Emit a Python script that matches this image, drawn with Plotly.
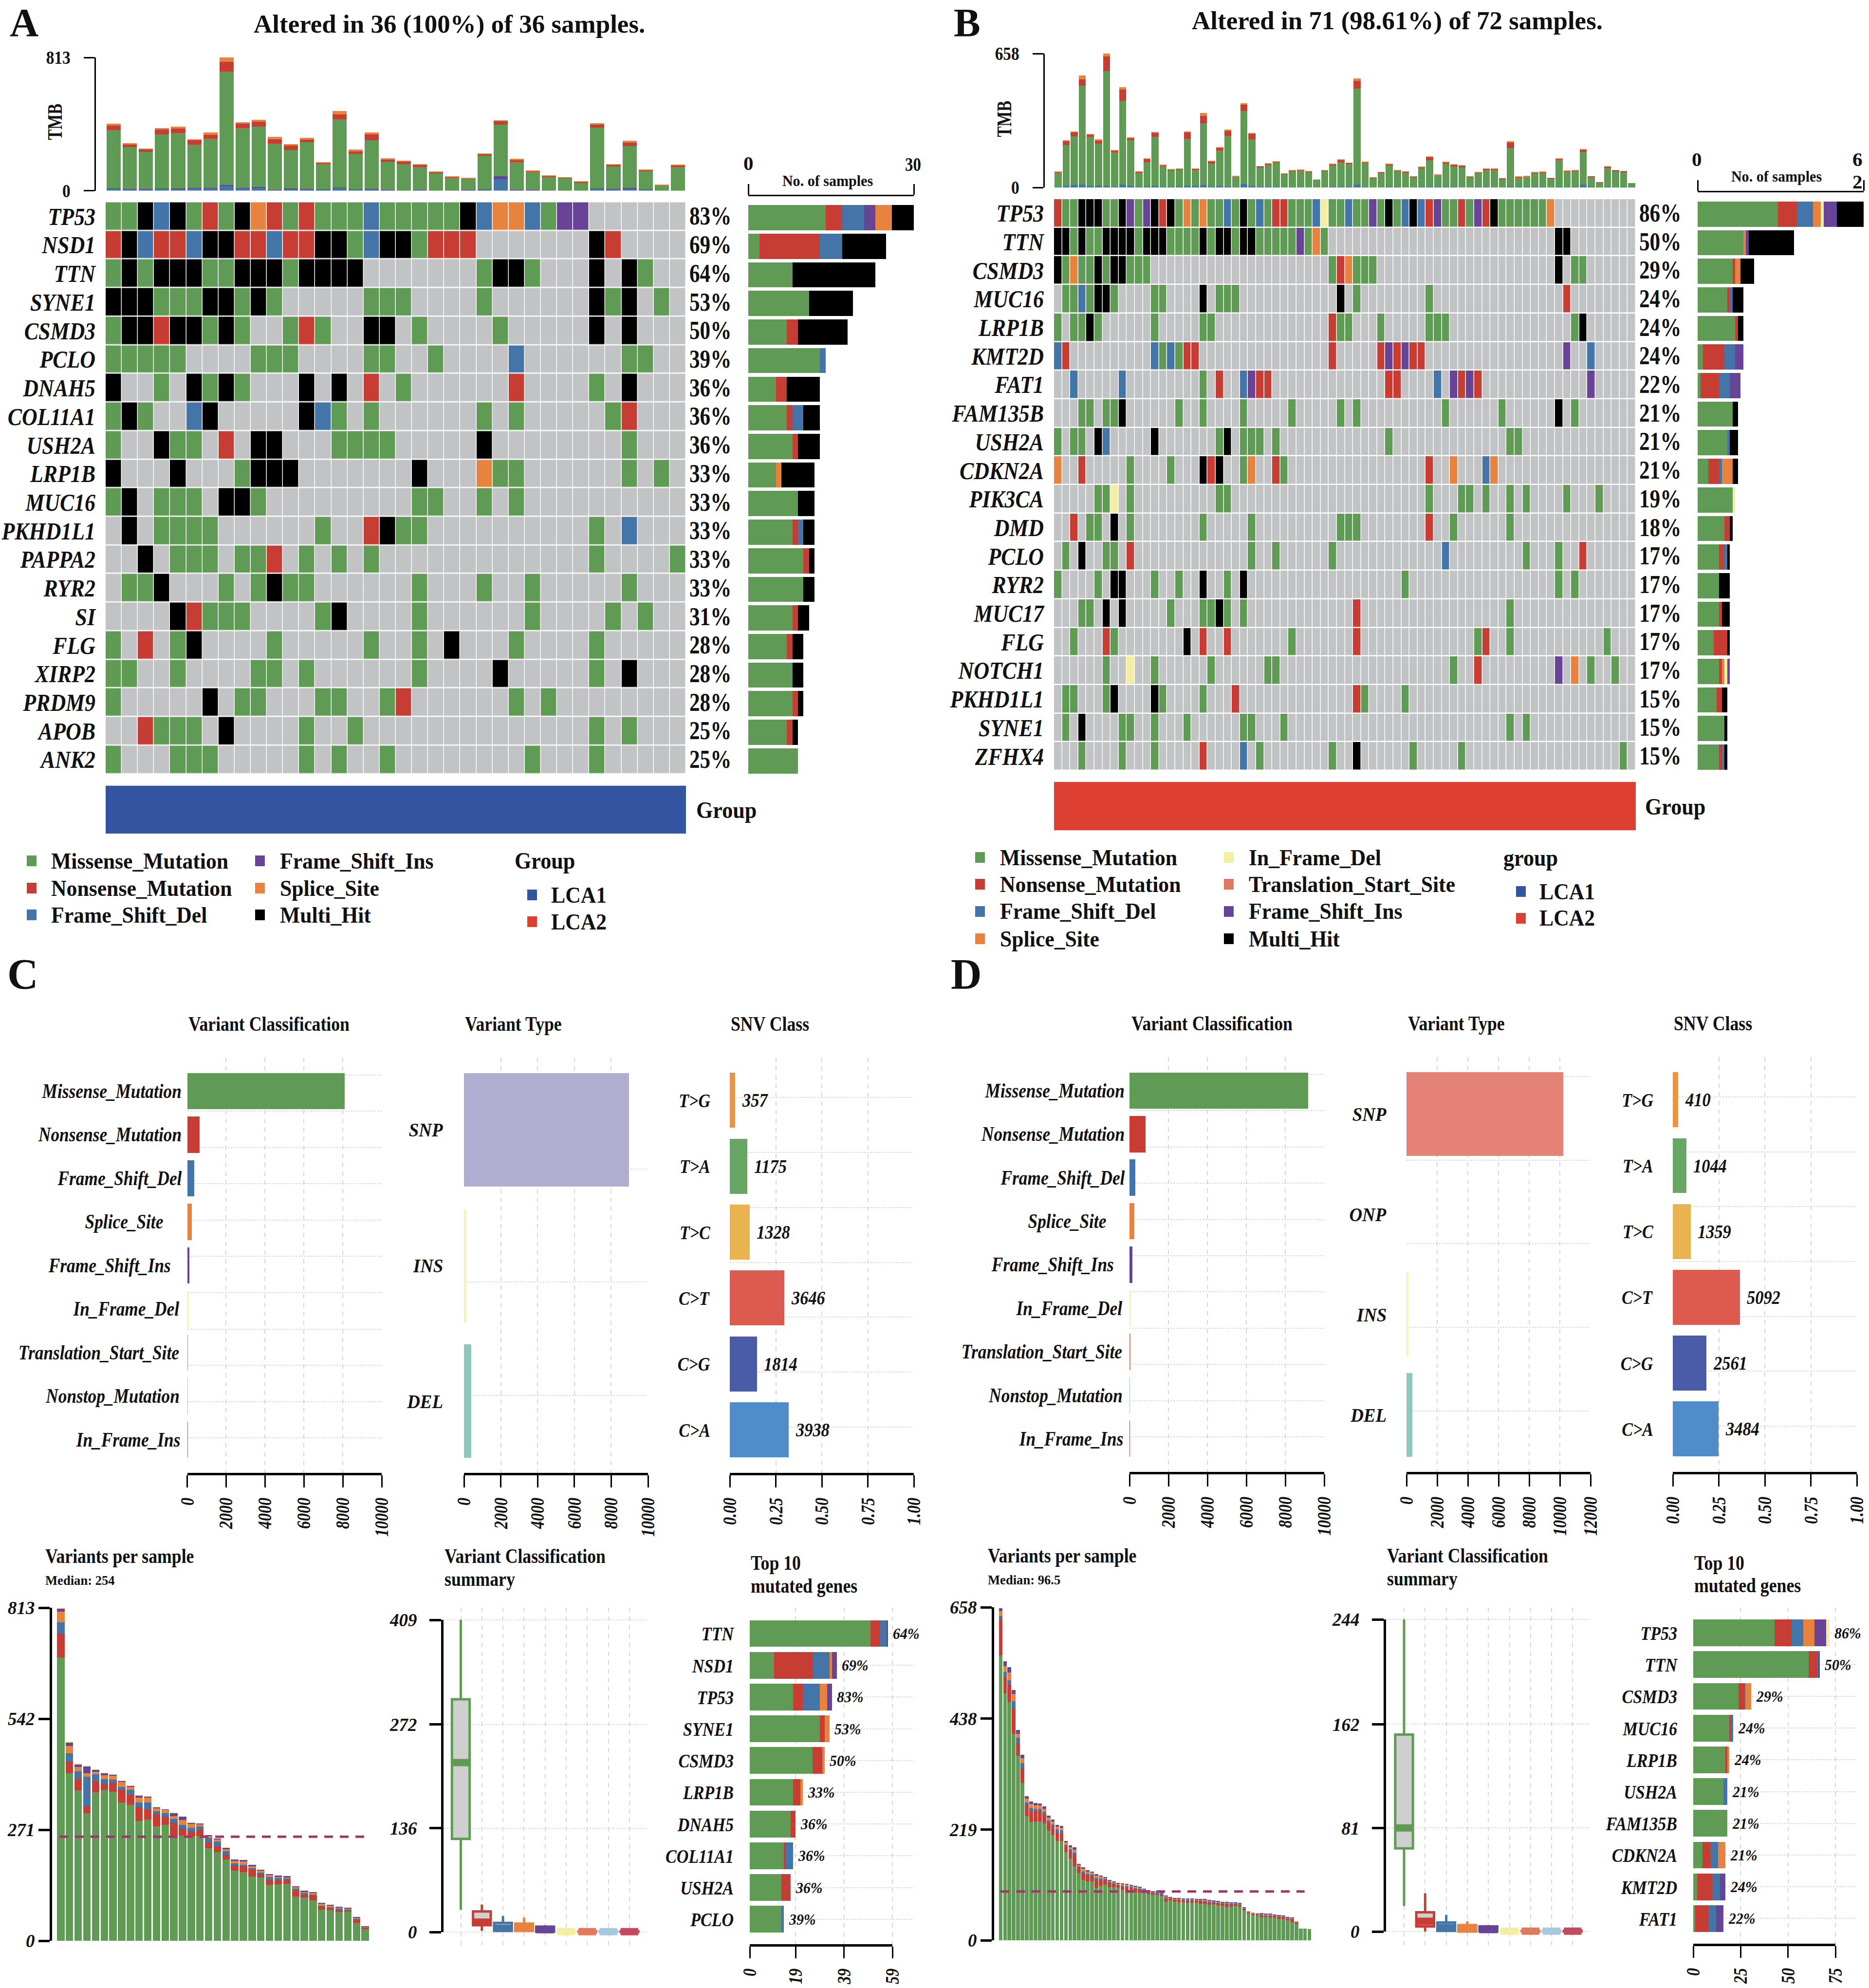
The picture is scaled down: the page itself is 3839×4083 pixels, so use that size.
import json
import numpy as np
import plotly.graph_objects as go

W, H = 3839, 4083
FONT = "Liberation Serif"

# ---------- colours ----------
GREEN, RED, BLUE, PURPLE, ORANGE = "#5f9b54", "#c73c33", "#4475a8", "#674496", "#e8823f"
YELLOW, SALMON, GRAY, BLACK = "#f3eea0", "#e07a5f", "#c1c3c5", "#000000"
CODE = {".": 0, "M": 1, "N": 2, "D": 3, "I": 4, "S": 5, "F": 6, "T": 7, "H": 8}
CODE_COL = [GRAY, GREEN, RED, BLUE, PURPLE, ORANGE, YELLOW, SALMON, BLACK]

# ---------- Panel A data ----------
genes_a = ["TP53", "NSD1", "TTN", "SYNE1", "CSMD3", "PCLO", "DNAH5", "COL11A1", "USH2A", "LRP1B",
           "MUC16", "PKHD1L1", "PAPPA2", "RYR2", "SI", "FLG", "XIRP2", "PRDM9", "APOB", "ANK2"]
pct_a = [83, 69, 64, 53, 50, 39, 36, 36, 36, 33, 33, 33, 33, 33, 31, 28, 28, 28, 25, 25]
onco_a = [
    "MMHDHMNMHSNMNMMMDMMMMMHDSSDMII......",
    "NHDNNDHHNNDNNHHMDHHMNNN.......HN....",
    "MHMHHHMMHHHMHHHH.......MHHM...H.HM..",
    "HHHMMMHHMHM.....MMM....M......HMH.M.",
    "MHHNHHMHM..MNM..HH.M....M.....H.H...",
    "MMMMM....MMM....MM..M....D......MM..",
    "H..M.HMHM...H.H.N.M......N....M.H...",
    "MHM..DH.....HDM.M......M.M.....MN...",
    "M..HMM.N.HH...MMMM.....H........M...",
    "H...H...MHHH.......H...SMM......M.M.",
    "MH.MMM.HHM.........MM..M.M..........",
    ".H.MMMM......M..NHMM..........M.D...",
    "..H.MMM.MMN.M.M.M.............M....M",
    ".MMH...M.MHMM......M...M..M.....M...",
    "....HNMMM....MH....M......M....M.M..",
    "M.N.MH....M.....M..M.H...M....M.....",
    "MM..M....MM.M......M....H.....M.H...",
    "M.....H.MM...MM..MN......M.M........",
    "..NMMM.H....M..M..............M.M...",
    "M...MMM.....M.M..M........M...M.....",
]
tmb_a_del = [11, 9, 8, 11, 9, 15, 15, 30, 15, 17, 4, 9, 9, 6, 17, 6, 9, 4, 2, 4, 2, 2, 4, 6, 70, 2, 4, 2, 2, 2, 11, 9, 11, 6, 1, 2]
tmb_a_ins = [3, 2, 2, 2, 4, 3, 2, 5, 2, 5, 2, 4, 3, 2, 4, 2, 2, 2, 1, 1, 1, 1, 1, 2, 19, 2, 2, 1, 1, 1, 4, 2, 6, 2, 0, 1]
tmb_a_mis = [355, 254, 227, 332, 338, 262, 299, 693, 366, 370, 280, 235, 284, 155, 415, 216, 298, 172, 160, 139, 103, 78, 69, 204, 315, 170, 108, 78, 75, 44, 370, 137, 256, 109, 31, 141]
tmb_a_non = [27, 15, 15, 27, 29, 29, 25, 57, 27, 29, 29, 27, 15, 6, 30, 17, 34, 11, 13, 11, 6, 2, 2, 9, 19, 13, 6, 9, 2, 8, 17, 11, 19, 9, 2, 9]
tmb_a_spl = [13, 11, 6, 11, 11, 4, 13, 28, 9, 13, 13, 9, 13, 6, 19, 9, 11, 8, 8, 6, 6, 4, 4, 6, 8, 8, 4, 4, 2, 2, 9, 4, 13, 4, 2, 6]

# ---------- Panel B data ----------
genes_b = ["TP53", "TTN", "CSMD3", "MUC16", "LRP1B", "KMT2D", "FAT1", "FAM135B", "USH2A", "CDKN2A",
           "PIK3CA", "DMD", "PCLO", "RYR2", "MUC17", "FLG", "NOTCH1", "PKHD1L1", "SYNE1", "ZFHX4"]
pct_b = [86, 50, 29, 24, 24, 24, 22, 21, 21, 21, 19, 18, 17, 17, 17, 17, 17, 15, 15, 15]
onco_b = [
    "NMMHHHMMHIMIHNHMSMSMMDMHMDMNNMMMDFMM" + "DMMIMHMDHDNIMMNMINHMMMMMMS..........",
    "HHMHMMHHHHMHHHMMMMHMHHMHHMMMMMIMSM.." + "..........................HH........",
    "HMSMMHMHHMMM......................MN" + "SMMM......................H.MM......",
    ".MMDMHHM....MM....H.MMM............H" + ".M........M................N........",
    "M.MMHM......M.....MM..............NM" + "M...M.....MMM...............MH......",
    "DN..........DMDMNN................N." + "....NININN.................I..D.....",
    "..D.....D.........M.N..DINN........." + ".....NN....D.ININ.............I.....",
    "...MM.MMH......M..M....M.....M.....M" + ".M..........M......M......H.M.......",
    "M.MM.HD.....H.......MH.MMM.M........" + ".....M..............MM..............",
    "S..N.....M....M...HNH..MS..NM......." + "..........N..S...DS.................",
    ".....MMF.M..........MM.............." + "..........M...MM.M..M.M....M...M....",
    "..N.MM.H.M........M.....M..........M" + "MM........N..M......M...............",
    ".M.H..MM.N..............M..M......M." + "............D.........M...M..N......",
    "M....M.HH...M..M..H..M.H............" + ".......M..................M.M.......",
    "...MM.H.H.....M...MMHM.M............" + ".N..................M...............",
    "..M...NM........H.N..N.......M......" + ".N..............MN..M...........M...",
    "......M..F..M......M......MM........" + ".............M..N.........I.S.M..M..",
    ".MM...MH....HM....M...N............." + ".NM....M............................",
    ".M.H....MM..M...M......MM...M......." + "....................M.M.............",
    "...M....M...M.....N....D.M........M." + ".H......M.....M...................M.",
]
tmb_b_total = [78, 231, 276, 551, 264, 238, 657, 183, 492, 246, 78, 142, 272, 111, 89, 93, 275, 92, 365, 130, 197, 284, 56, 415, 269, 105, 118, 128, 69, 84, 87, 79, 37, 84, 115, 137, 121, 537, 125, 50, 76, 116, 84, 78, 55, 101, 151, 63, 125, 113, 108, 55, 75, 92, 92, 44, 228, 53, 56, 76, 78, 47, 144, 82, 84, 188, 53, 26, 104, 86, 81, 21]
tmb_b_non = [3, 20, 20, 30, 12, 14, 70, 7, 55, 10, 3, 15, 18, 5, 3, 3, 30, 4, 35, 10, 12, 24, 2, 30, 25, 5, 4, 5, 2, 3, 3, 3, 1, 4, 6, 9, 4, 38, 4, 2, 3, 6, 3, 3, 2, 6, 14, 2, 4, 7, 8, 2, 3, 3, 3, 1, 28, 2, 2, 3, 4, 1, 7, 3, 3, 10, 1, 1, 4, 4, 4, 0]
tmb_b_spl = [2, 3, 4, 20, 4, 8, 14, 3, 12, 3, 1, 3, 5, 1, 1, 1, 5, 1, 14, 3, 3, 6, 1, 9, 6, 2, 2, 2, 1, 1, 1, 1, 0, 1, 1, 3, 1, 14, 1, 1, 1, 3, 1, 1, 1, 2, 2, 1, 2, 2, 2, 1, 1, 1, 1, 0, 7, 1, 1, 2, 2, 1, 3, 1, 1, 3, 0, 0, 2, 2, 2, 0]
tmb_b_del = [3, 6, 12, 14, 6, 9, 8, 3, 14, 6, 2, 4, 6, 3, 2, 4, 7, 8, 11, 3, 6, 5, 1, 16, 8, 3, 2, 2, 1, 1, 1, 1, 0, 1, 2, 3, 2, 14, 3, 1, 1, 2, 2, 1, 1, 3, 3, 2, 3, 2, 1, 1, 2, 3, 1, 1, 5, 3, 2, 2, 2, 1, 3, 1, 3, 14, 3, 0, 3, 1, 3, 0]

# ---------- Panels C / D summary data ----------
vc_names = ["Missense_Mutation", "Nonsense_Mutation", "Frame_Shift_Del", "Splice_Site", "Frame_Shift_Ins",
            "In_Frame_Del", "Translation_Start_Site", "Nonstop_Mutation", "In_Frame_Ins"]
vc_cols = [GREEN, RED, BLUE, ORANGE, PURPLE, YELLOW, SALMON, "#a6cadd", "#c44a60"]
vc_c = [8098, 640, 370, 245, 120, 30, 20, 10, 5]
vc_d = [9172, 828, 307, 245, 150, 50, 30, 10, 5]
vt_c_names, vt_c = ["SNP", "INS", "DEL"], [8964, 130, 390]
vt_d_names, vt_d = ["SNP", "ONP", "INS", "DEL"], [10213, 2, 120, 388]
vt_c_cols = ["#b0aed0", "#f6f5b0", "#8cc9bc"]
vt_d_cols = ["#e58278", "#ffffff", "#f6f5b0", "#8cc9bc"]
snv_names = ["T>G", "T>A", "T>C", "C>T", "C>G", "C>A"]
snv_cols = ["#ec9444", "#68a665", "#e9b44f", "#dc5a4e", "#4a5ba8", "#4f8cc9"]
snv_c = [357, 1175, 1328, 3646, 1814, 3938]
snv_d = [410, 1044, 1359, 5092, 2561, 3484]

# variants per sample, panel C
vps_c_mis = [692, 409, 367, 311, 363, 368, 364, 338, 332, 292, 296, 279, 283, 257, 257, 256, 255, 226, 216, 199, 171, 168, 157, 154, 137, 138, 139, 108, 106, 99, 76, 75, 70, 72, 44, 29]
vps_c_non = [57, 28, 28, 18, 27, 16, 21, 30, 24, 35, 25, 30, 20, 32, 18, 11, 16, 14, 14, 11, 13, 14, 16, 9, 11, 9, 9, 13, 6, 11, 8, 4, 6, 2, 7, 3]
vps_c_del = [28, 21, 19, 72, 16, 11, 9, 8, 12, 11, 17, 7, 9, 8, 8, 9, 8, 11, 13, 9, 5, 4, 4, 4, 8, 6, 4, 6, 4, 3, 2, 3, 2, 2, 2, 1]
vps_c_spl = [26, 18, 10, 8, 7, 9, 9, 11, 8, 11, 11, 7, 8, 7, 12, 9, 5, 5, 5, 5, 6, 8, 5, 5, 4, 3, 3, 4, 4, 4, 4, 3, 4, 3, 4, 1]
vps_c_ins = [8, 8, 6, 16, 4, 5, 3, 4, 2, 6, 4, 3, 1, 8, 8, 3, 3, 2, 2, 3, 3, 3, 4, 2, 3, 3, 3, 2, 2, 2, 3, 3, 1, 2, 1, 1]
vps_c_oth = [2, 3, 4, 3, 3, 2, 2, 1, 1, 1, 1, 1, 1, 1, 0, 3, 0, 0, 0, 0, 0, 0, 0, 0, 0, 0, 0, 0, 0, 0, 0, 0, 0, 0, 0, 0]

# variants per sample, panel D
vps_d_total = [656, 551, 540, 494, 416, 367, 285, 274, 271, 270, 265, 246, 239, 228, 226, 196, 188, 184, 151, 144, 139, 136, 131, 128, 125, 119, 116, 113, 112, 111, 109, 107, 105, 102, 99, 97, 96, 94, 88, 85, 83, 83, 82, 82, 82, 81, 81, 81, 79, 78, 77, 76, 76, 75, 75, 74, 65, 57, 54, 53, 53, 52, 52, 51, 50, 49, 46, 45, 37, 23, 23, 22]
vps_d_mis = [563, 488, 470, 408, 365, 311, 245, 234, 235, 235, 231, 216, 208, 196, 196, 174, 162, 146, 133, 119, 116, 116, 104, 108, 111, 105, 105, 104, 100, 98, 97, 94, 94, 93, 91, 89, 89, 88, 76, 79, 76, 75, 75, 74, 74, 74, 72, 71, 70, 71, 69, 68, 65, 66, 68, 66, 59, 53, 50, 49, 45, 46, 45, 45, 42, 42, 39, 36, 33, 23, 23, 22]
vps_d_non = [71, 32, 35, 50, 25, 30, 22, 22, 20, 20, 18, 16, 16, 18, 16, 12, 14, 22, 10, 13, 12, 11, 14, 11, 8, 8, 6, 5, 6, 7, 7, 7, 6, 5, 4, 4, 4, 3, 7, 3, 4, 5, 4, 4, 5, 4, 5, 5, 5, 4, 4, 4, 6, 5, 4, 4, 3, 2, 2, 2, 4, 3, 4, 3, 4, 4, 4, 5, 2, 0, 0, 0]
vps_d_del = [7, 10, 9, 14, 10, 9, 5, 6, 5, 5, 5, 5, 5, 5, 5, 3, 4, 5, 3, 4, 4, 3, 5, 3, 2, 2, 2, 1, 2, 2, 2, 2, 2, 1, 1, 1, 1, 1, 2, 1, 1, 1, 1, 2, 1, 1, 2, 2, 1, 1, 2, 2, 2, 2, 1, 2, 1, 1, 1, 1, 2, 1, 1, 1, 2, 1, 1, 2, 1, 0, 0, 0]
vps_d_spl = [9, 12, 15, 15, 8, 10, 8, 7, 6, 6, 6, 5, 6, 5, 5, 4, 4, 6, 3, 5, 4, 4, 5, 4, 3, 3, 2, 2, 3, 3, 2, 3, 2, 2, 2, 2, 1, 1, 2, 1, 1, 1, 1, 1, 1, 1, 1, 2, 2, 1, 1, 1, 2, 1, 1, 1, 1, 1, 1, 1, 1, 1, 1, 1, 1, 1, 1, 1, 1, 0, 0, 0]

# boxplot statistics: lower whisker, q1, median, q3, upper whisker
box_c = [[29, 122, 222, 305, 409], [1.5, 9, 13, 27, 36], [0, 1.5, 5, 12, 21], [0, 1.5, 5, 11, 19], [0, 0.5, 3, 7, 9],
         [0, 0, 0.5, 1, 2], [0, 0, 0.5, 1, 2], [0, 0, 0.5, 1, 2], [0, 0, 0.5, 1, 2]]
box_d = [[20, 65, 81, 154, 244], [0, 4, 8, 15, 30], [0, 0.5, 3, 7, 13], [0, 0, 2, 5, 8], [0, 0, 1.5, 4, 5],
         [0, 0, 0.3, 0.6, 1], [0, 0, 0.3, 0.6, 1], [0, 0, 0.3, 0.6, 1], [0, 0, 0.3, 0.6, 1]]

# top-10 genes
top_c_genes = ["TTN", "NSD1", "TP53", "SYNE1", "CSMD3", "LRP1B", "DNAH5", "COL11A1", "USH2A", "PCLO"]
top_c_pct = [64, 69, 83, 53, 50, 33, 36, 36, 36, 39]
top_c_mis = [50, 10, 18, 29, 26, 18, 17, 14, 13, 13]
top_c_non = [4, 16, 4, 2, 4, 3, 2, 1, 4, 0]
top_c_del = [2.5, 7, 7, 0, 0, 0, 0, 3, 0, 1]
top_c_spl = [0, 1, 3, 2, 1, 1, 0, 0, 0, 0]
top_c_ins = [0.7, 2, 2, 0, 0, 0, 0, 0, 0, 0]
top_d_genes = ["TP53", "TTN", "CSMD3", "MUC16", "LRP1B", "USH2A", "FAM135B", "CDKN2A", "KMT2D", "FAT1"]
top_d_pct = [86, 50, 29, 24, 24, 21, 21, 21, 24, 22]
top_d_mis = [43, 61, 24, 19, 17, 16, 18, 5, 2, 1]
top_d_non = [9, 4.5, 3, 1, 1, 0, 0, 4, 8, 7]
top_d_del = [6, 0.5, 0.5, 1, 0, 2, 0, 4, 4, 4]
top_d_spl = [6, 0, 3, 0, 1, 0, 0, 4, 0, 0]
top_d_ins = [6, 0.7, 0, 0, 0, 0, 0, 0, 3, 4]
top_d_ifd = [2, 0, 0, 0, 0, 0, 0, 0, 0, 0]

# ---------- helpers ----------
fig = go.Figure()
layout = {}
annos = []
squash = []
shapes = []
counter = [0]
GRID = "#d6d6d6"
TICK_SQUASH = {51: 0.86, 40: 0.8, 38: 0.97, 41: 0.83, 37: 0.9}


def axes(x0, x1, y0, y1, xo=None, yo=None):
    counter[0] += 1
    n = counter[0]
    base = dict(showgrid=False, zeroline=False, showline=False, showticklabels=False, ticks="", fixedrange=True, automargin=False)
    xa = dict(base, domain=[x0 / W, x1 / W], anchor=f"y{n}")
    ya = dict(base, domain=[1 - y1 / H, 1 - y0 / H], anchor=f"x{n}")
    xa.update(xo or {})
    ya.update(yo or {})
    layout[f"xaxis{n}"] = xa
    layout[f"yaxis{n}"] = ya
    return f"x{n}", f"y{n}"


def txt(x, y, s, size=36, anchor="left", bold=True, italic=False, angle=0, xref="paper", yref="paper", xshift=0, color="#111111", k=1.0):
    annos.append(dict(
        x=(x / W if xref == "paper" else x), y=(1 - y / H if yref == "paper" else y), xref=xref, yref=yref,
        text=s, showarrow=False, xanchor=anchor, yanchor="middle", textangle=angle, xshift=xshift,
        font=dict(family=FONT, size=size, color=color, weight="bold" if bold else "normal",
                  style="italic" if italic else "normal")))
    squash.append([k, anchor])


def hbar(xa, ya, ypos, vals, col, width):
    fig.add_trace(go.Bar(x=vals, y=ypos, orientation="h", xaxis=xa, yaxis=ya, marker=dict(color=col, line_width=0),
                         width=width, showlegend=False, hoverinfo="skip"))


def vbar(xa, ya, xpos, vals, col, width):
    fig.add_trace(go.Bar(x=xpos, y=vals, xaxis=xa, yaxis=ya, marker=dict(color=col, line_width=0),
                         width=width, showlegend=False, hoverinfo="skip"))


def ticks_font(size=36):
    return dict(family=FONT, size=size, color="#111111", weight="bold", style="italic")


def square(x, y, col, w=20, h=22):
    shapes.append(dict(type="rect", xref="paper", yref="paper", x0=(x - w / 2) / W, x1=(x + w / 2) / W,
                       y0=1 - (y + h / 2) / H, y1=1 - (y - h / 2) / H, fillcolor=col, line_width=0))


def ruler(x0, x1, y0, y1, xo=None, yo=None):
    """an axis pair that only carries an axis line and its ticks"""
    xa, ya = axes(x0, x1, y0, y1, xo, yo)
    fig.add_trace(go.Scatter(x=[None], y=[None], xaxis=xa, yaxis=ya, mode="lines", showlegend=False, hoverinfo="skip"))
    return xa, ya


discrete = []
for i, c in enumerate(CODE_COL):
    discrete += [[i / len(CODE_COL), c], [(i + 1) / len(CODE_COL), c]]


def oncoplot(onco, genes, pct, x0, x1, y0, y1, pct_x, bars_x0, bars_x1, bars_top, bars_y1, bar_first, n_max, order,
             group_y0, group_y1, group_col):
    nc = len(onco[0])
    z = [[CODE[ch] for ch in row] for row in onco]
    xa, ya = axes(x0, x1, y0, y1, dict(range=[-0.5, nc - 0.5]),
                  dict(range=[len(genes) - 0.5, -0.5], tickmode="array", tickvals=list(range(len(genes))), ticktext=genes,
                       showticklabels=True, tickfont=ticks_font(51), ticklabelstandoff=20))
    fig.add_trace(go.Heatmap(z=z, x=list(range(nc)), y=list(range(len(genes))), xaxis=xa, yaxis=ya, zmin=-0.5, zmax=8.5,
                             colorscale=discrete, showscale=False, xgap=1.5, ygap=2.5, hoverinfo="skip"))
    for i, p in enumerate(pct):
        txt(pct_x, i, f"{p}%", size=52, xref="paper", yref=ya, k=0.83)
    # right-hand bars
    pitch = (y1 - y0) / len(genes)
    top = (bars_top - bar_first) / pitch
    bot = (bars_y1 - bar_first) / pitch
    xb, yb = axes(bars_x0, bars_x1, bars_top, bars_y1,
                  dict(range=[0, n_max], side="top", showline=True, linecolor="#000", linewidth=3, ticks="outside",
                       ticklen=22, tickwidth=3, tickcolor="#000", tickmode="array", tickvals=[0, n_max]),
                  dict(range=[bot, top]))
    rows = list(range(len(genes)))
    for ch in order:
        vals = [row.count(ch) for row in onco]
        hbar(xb, yb, rows, vals, CODE_COL[CODE[ch]], 0.88)
    # group strip
    xg, yg = axes(x0, x1, group_y0, group_y1, dict(range=[-0.5, nc - 0.5]), dict(range=[-0.5, 0.5]))
    fig.add_trace(go.Heatmap(z=[[1] * nc], x=list(range(nc)), y=[0], xaxis=xg, yaxis=yg, zmin=0, zmax=1,
                             colorscale=[[0, group_col], [1, group_col]], showscale=False, hoverinfo="skip"))


def tmb(x0, x1, y0, y1, axis_x, ymax, series):
    n = len(series[0][0])
    xa, ya = axes(x0, x1, y0, y1, dict(range=[-0.5, n - 0.5]),
                  dict(range=[0, ymax], anchor="free", position=axis_x / W, showline=True, linecolor="#000", linewidth=3,
                       ticks="outside", ticklen=22, tickwidth=3, tickcolor="#000", tickmode="array", tickvals=[0, ymax],
                       showticklabels=True, ticklabelstandoff=20, tickfont=dict(family=FONT, size=37, color="#111", weight="bold")))
    xs = list(range(n))
    for vals, col in series:
        vbar(xa, ya, xs, vals, col, 0.88)


# ---------- Panel A ----------
txt(18, 46, "A", size=82)
txt(923, 50, "Altered in 36 (100%) of 36 samples.", size=53, anchor="center")
tmb(217, 1409, 118, 391.6, 195, 813,
    [(tmb_a_del, BLUE), (tmb_a_ins, PURPLE), (tmb_a_mis, GREEN), (tmb_a_non, RED), (tmb_a_spl, ORANGE)])
txt(113, 250, "TMB", size=42, anchor="center", angle=-90, k=0.78)
oncoplot(onco_a, genes_a, pct_a, 217, 1409, 414.5, 1589, 1414, 1537, 1877, 403, 1593, 447, 30, "MNDISH",
         1613.5, 1712, "#3354a0")
txt(1537, 335, "0", size=41, anchor="center")
txt(1875, 337, "30", size=41, anchor="center", k=0.8)
txt(1700, 371, "No. of samples", size=31, anchor="center", k=0.97)
txt(1428, 1663, "Group", size=48, k=0.92)
leg_a = [(65, 103, 1768, "Missense_Mutation", GREEN), (65, 103, 1824, "Nonsense_Mutation", RED),
         (65, 103, 1879, "Frame_Shift_Del", BLUE), (534, 573, 1768, "Frame_Shift_Ins", PURPLE),
         (534, 573, 1824, "Splice_Site", ORANGE), (534, 573, 1879, "Multi_Hit", BLACK),
         (1093, 1130, 1838, "LCA1", "#3354a0"), (1093, 1130, 1893, "LCA2", "#dd3f33")]
for mx, tx, y, s, c in leg_a:
    square(mx, y, c)
    txt(tx, y, s, size=46, k=0.95)
txt(1055, 1767, "Group", size=48, k=0.92)

# ---------- Panel B ----------
txt(1957, 46, "B", size=82)
txt(2870, 43, "Altered in 71 (98.61%) of 72 samples.", size=53, anchor="center")
tmb_b_mis = list(np.array(tmb_b_total) - np.array(tmb_b_del) - np.array(tmb_b_non) - np.array(tmb_b_spl))
tmb(2165, 3360, 110, 385, 2144, 658, [(tmb_b_del, BLUE), (tmb_b_mis, GREEN), (tmb_b_non, RED), (tmb_b_spl, ORANGE)])
txt(2063, 244, "TMB", size=42, anchor="center", angle=-90, k=0.78)
oncoplot(onco_b, genes_b, pct_b, 2165, 3360, 408, 1582, 3365, 3487, 3828, 395, 1585, 439.7, 62, "MNDSFTIH",
         1606, 1705, "#dd3f33")
txt(3485, 327, "0", size=41, anchor="center")
txt(3815, 327, "6", size=41, anchor="center")
txt(3815, 373, "2", size=41, anchor="center")
txt(3649, 363, "No. of samples", size=31, anchor="center", k=0.97)
txt(3377, 1657, "Group", size=48, k=0.92)
leg_b = [(2013, 2052, 1761, "Missense_Mutation", GREEN), (2013, 2052, 1816, "Nonsense_Mutation", RED),
         (2013, 2052, 1872, "Frame_Shift_Del", BLUE), (2013, 2052, 1928, "Splice_Site", ORANGE),
         (2524, 2563, 1761, "In_Frame_Del", YELLOW), (2524, 2563, 1816, "Translation_Start_Site", SALMON),
         (2524, 2563, 1872, "Frame_Shift_Ins", PURPLE), (2524, 2563, 1928, "Multi_Hit", BLACK),
         (3124, 3160, 1831, "LCA1", "#3354a0"), (3124, 3160, 1886, "LCA2", "#dd3f33")]
for mx, tx, y, s, c in leg_b:
    square(mx, y, c)
    txt(tx, y, s, size=46, k=0.95)
txt(3086, 1761, "group", size=48, k=0.92)


# ---------- summary panels ----------
def bar_axis_x(xmax, step_vals, labels):
    return dict(range=[0, xmax], showline=True, linecolor="#000", linewidth=5, ticks="outside", ticklen=25, tickwidth=3,
                tickcolor="#000", tickmode="array", tickvals=step_vals, ticktext=labels, showticklabels=True,
                tickangle=-90, tickfont=ticks_font(40), ticklabelstandoff=5, showgrid=True, gridcolor=GRID, griddash="dash",
                gridwidth=2)


def grid_y(rng, start, step):
    lo, hi = min(rng), max(rng)
    vals = []
    v = start
    while v > lo:
        v -= step
    v += step
    while v < hi:
        vals.append(round(v, 4))
        v += step
    return dict(range=rng, tickmode="array", tickvals=vals, showgrid=True, gridcolor=GRID, griddash="dot", gridwidth=2)


def summary(dx, dy, vc, vt_names, vt, vt_cols, vt_x0, vt_x1, vt_max, vt_grid, vt_rng, vt_lab_r, snv, snv_x0, snv_x1, vc_x0, vc_x1,
            title_xs, y_axis):
    txt(title_xs[0], 2103 + dy, "Variant Classification", size=42, k=0.85)
    txt(title_xs[1], 2103 + dy, "Variant Type", size=42, k=0.85)
    txt(title_xs[2], 2103 + dy, "SNV Class", size=42, k=0.85)
    top = 2172 + dy
    # classification
    ticks = [0, 2000, 4000, 6000, 8000, 10000]
    xa, ya = axes(vc_x0, vc_x1, top, y_axis, bar_axis_x(10000, ticks, [str(t) for t in ticks]),
                  grid_y([8.76, -0.77], 1.295, 0.8328))
    for i, (v, c) in enumerate(zip(vc, vc_cols)):
        hbar(xa, ya, [i], [v], c, 0.835)
    rights = [375, 375, 376, 337, 353, 370, 370, 371, 372]
    for i, name in enumerate(vc_names):
        txt(rights[i] + dx, i, name, size=42, anchor="right", italic=True, yref=ya, k=0.84)
    # type
    ticks = list(range(0, vt_max + 1, 2000))
    xa, ya = axes(vt_x0, vt_x1, top, y_axis, bar_axis_x(vt_max, ticks, [str(t) for t in ticks]),
                  grid_y(vt_rng, vt_grid[0], vt_grid[1]))
    for i, (v, c) in enumerate(zip(vt, vt_cols)):
        hbar(xa, ya, [i], [v], c, 0.835)
    for i, name in enumerate(vt_names):
        txt(vt_lab_r, i, name, size=41, anchor="right", italic=True, yref=ya, k=0.9)
    # snv
    total = sum(snv)
    ticks = [0, 0.25, 0.5, 0.75, 1]
    xa, ya = axes(snv_x0, snv_x1, top, y_axis, bar_axis_x(1, ticks, ["0.00", "0.25", "0.50", "0.75", "1.00"]),
                  grid_y([5.653, -0.65], 0.791, 0.8333))
    for i, (v, c) in enumerate(zip(snv, snv_cols)):
        hbar(xa, ya, [i], [v / total], c, 0.835)
        txt(v / total, i, str(v), size=40, italic=True, xref=xa, yref=ya, xshift=12, k=0.86)
        txt(snv_x0 - 38, i, snv_names[i], size=41, anchor="right", italic=True, yref=ya, k=0.83)


txt(13, 2001, "C", size=88)
txt(1951, 2001, "D", size=88)
summary(0, 0, vc_c, vt_c_names, vt_c, vt_c_cols, 953, 1331, 10000, (0.289, 0.834), [2.529, -0.532], 912,
        snv_c, 1499, 1877, 384.5, 784, (384.5, 953, 1499), 3025)
summary(1937, -1, vc_d, vt_d_names, vt_d, vt_d_cols, 2889, 3267, 12000, (0.459, 0.833), [3.566, -0.569], 2850,
        snv_d, 3436, 3814, 2320, 2720, (2322, 2890, 3436), 3023)


def vps(x0, x1, y0, y1, axis_x, ymax, ticks, series, median, dash_rng):
    n = len(series[0][0])
    xa, ya = axes(x0, x1, y0, y1, dict(range=[-0.5, n - 0.5]),
                  dict(range=[0, ymax], anchor="free", position=axis_x / W, showline=True, linecolor="#000", linewidth=5,
                       ticks="outside", ticklen=23, tickwidth=5, tickcolor="#000", tickmode="array", tickvals=ticks,
                       showticklabels=True, tickfont=ticks_font(38)))
    xs = list(range(n))
    for vals, c in series:
        vbar(xa, ya, xs, vals, c, 0.86)
    fig.add_trace(go.Scatter(x=dash_rng, y=[median, median], xaxis=xa, yaxis=ya, mode="lines", showlegend=False,
                             hoverinfo="skip", line=dict(color="#9c3a64", width=5, dash="18px,14px")))


def summary_box(x0, x1, y0, y1, y_zero, y_top, ymax, ticks, stats, centre_px, med_w):
    pitch = 43.3
    scale = (y_zero - y_top) / ymax
    xr = [(x0 - centre_px) / pitch, (x1 - centre_px) / pitch]
    yr = [-(y1 - y_zero) / scale, ymax + (y_top - y0) / scale]
    xa, ya = axes(x0, x1, y0, y1,
                  dict(range=xr, tickmode="array", tickvals=list(range(9)), showgrid=True, gridcolor=GRID, griddash="dash", gridwidth=2),
                  dict(range=yr, tickmode="array", tickvals=ticks, showgrid=True, gridcolor=GRID, griddash="dot", gridwidth=2))
    ruler(x0, x1, y_top, y_zero, dict(range=xr),
          dict(range=[0, ymax], showline=True, linecolor="#000", linewidth=5, ticks="outside", ticklen=24, tickwidth=5,
               tickcolor="#000", tickmode="array", tickvals=ticks, showticklabels=True, ticklabelstandoff=18, tickfont=ticks_font(38)))
    for i, (s, c) in enumerate(zip(stats, vc_cols)):
        fig.add_trace(go.Box(x=[i], lowerfence=[s[0]], q1=[s[1]], median=[s[2]], q3=[s[3]], upperfence=[s[4]], xaxis=xa, yaxis=ya,
                             fillcolor="#cfcfcf", line=dict(color=c, width=5), width=0.84, whiskerwidth=0, boxpoints=False,
                             showlegend=False, hoverinfo="skip"))
        fig.add_trace(go.Scatter(x=[i - 0.42, i + 0.42], y=[s[2], s[2]], xaxis=xa, yaxis=ya, mode="lines", showlegend=False,
                                 hoverinfo="skip", line=dict(color=c, width=med_w)))


def top10(x0, x1, x_tick_end, y0, y1, first, genes, pct, tick_vals, vmax, series):
    pitch = 65.2
    span = (x1 - x0) / (x_tick_end - x0) * vmax
    ry = [(y1 - first) / pitch, (y0 - first) / pitch]
    xa, ya = axes(x0, x1, y0, y1,
                  dict(range=[0, span], tickmode="array", tickvals=tick_vals, showgrid=True, gridcolor=GRID, griddash="dash", gridwidth=2),
                  dict(range=ry, tickmode="array", tickvals=list(range(10)), ticktext=genes, showticklabels=True,
                       tickfont=ticks_font(41), ticklabelstandoff=32, showgrid=True, gridcolor=GRID, griddash="dot", gridwidth=2))
    ruler(x0, x_tick_end, y0, y1, dict(range=[0, vmax], showline=True, linecolor="#000", linewidth=5, ticks="outside", ticklen=24,
                                       tickwidth=3, tickcolor="#000", tickmode="array", tickvals=tick_vals,
                                       ticktext=[str(t) for t in tick_vals], showticklabels=True, tickangle=-90,
                                       tickfont=ticks_font(40), ticklabelstandoff=5), dict(range=ry))
    rows = list(range(10))
    for vals, c in series:
        hbar(xa, ya, rows, vals, c, 0.84)
    totals = np.sum([s[0] for s in series], axis=0)
    for i, p in enumerate(pct):
        txt(float(totals[i]), i, f"{p}%", size=32, italic=True, xref=xa, yref=ya, xshift=8, k=0.93)


# bottom row, C
txt(91, 3196, "Variants per sample", size=42, k=0.85)
txt(91, 3245, "Median: 254", size=28, k=0.95)
vps(116, 759, 3302, 3986, 104, 813, [0, 271, 542, 813],
    [(vps_c_mis, GREEN), (vps_c_non, RED), (vps_c_del, BLUE), (vps_c_spl, ORANGE), (vps_c_ins, PURPLE), (vps_c_oth, YELLOW)],
    254, [-0.16, 34.95])
txt(911, 3196, "Variant Classification", size=42, k=0.85)
txt(911, 3243, "summary", size=42, k=0.85)
summary_box(911, 1329, 3302, 3995, 3968, 3327, 409, [0, 136, 272, 409], box_c, 946.5, 15)
txt(1540, 3210, "Top 10", size=42, k=0.85)
txt(1540, 3257, "mutated genes", size=42, k=0.85)
top10(1540, 1877, 1833, 3302, 3993, 3355, top_c_genes, top_c_pct, [0, 19, 39, 59], 59,
      [(top_c_mis, GREEN), (top_c_non, RED), (top_c_del, BLUE), (top_c_spl, ORANGE), (top_c_ins, PURPLE)])

# bottom row, D
vps_d_ins = list(np.clip(np.array(vps_d_total) - np.array(vps_d_mis) - np.array(vps_d_non) - np.array(vps_d_del) - np.array(vps_d_spl), 0, None))
txt(2026.5, 3195, "Variants per sample", size=42, k=0.85)
txt(2026.5, 3244, "Median: 96.5", size=28, k=0.95)
vps(2051, 2694, 3301, 3985, 2039, 658, [0, 219, 438, 658],
    [(vps_d_mis, GREEN), (vps_d_non, RED), (vps_d_del, BLUE), (vps_d_spl, ORANGE), (vps_d_ins, PURPLE)],
    96.5, [-0.05, 69.9])
txt(2847, 3195, "Variant Classification", size=42, k=0.85)
txt(2847, 3242, "summary", size=42, k=0.85)
summary_box(2847, 3267, 3302, 3995, 3967, 3326, 244, [0, 81, 162, 244], box_d, 2884, 15)
txt(3478, 3209.5, "Top 10", size=42, k=0.85)
txt(3478, 3256, "mutated genes", size=42, k=0.85)
top10(3478, 3814, 3770, 3302, 3992, 3353.6, top_d_genes, top_d_pct, [0, 25, 50, 75], 75,
      [(top_d_mis, GREEN), (top_d_non, RED), (top_d_del, BLUE), (top_d_spl, ORANGE), (top_d_ins, PURPLE), (top_d_ifd, YELLOW)])

fig.update_layout(template="none", width=W, height=H, margin=dict(l=0, r=0, t=0, b=0, pad=0, autoexpand=False),
                  paper_bgcolor="white", plot_bgcolor="rgba(0,0,0,0)",
                  barmode="stack", showlegend=False, annotations=annos, shapes=shapes,
                  font=dict(family=FONT, color="#111111"), **layout)

# The reference's lettering is narrower than the font, so each label is condensed in place.
post = """
document.body.style.margin='0';document.body.style.padding='0';
var SQ=%s, TK=%s;
function cond(t,k){var w=t.getComputedTextLength();t.setAttribute('textLength',w*k);t.setAttribute('lengthAdjust','spacingAndGlyphs');return w;}
document.querySelectorAll('.annotation').forEach(function(a){
  var s=SQ[+a.getAttribute('data-index')]; var t=a.querySelector('text'); if(!s||!t||s[0]==1)return;
  var w=cond(t,s[0]); var d=s[1]=='left'?-(1-s[0])*w/2:(s[1]=='right'?(1-s[0])*w/2:0);
  t.setAttribute('x',parseFloat(t.getAttribute('x'))+d);
});
document.querySelectorAll('.cartesianlayer g[class*="tick"] text').forEach(function(t){
  var k=TK[Math.round(parseFloat(t.style.fontSize))]; if(k)cond(t,k);
});
""" % (json.dumps(squash), json.dumps(TICK_SQUASH))
fig.write_html("out.html", config=dict(displayModeBar=False), post_script=post)
